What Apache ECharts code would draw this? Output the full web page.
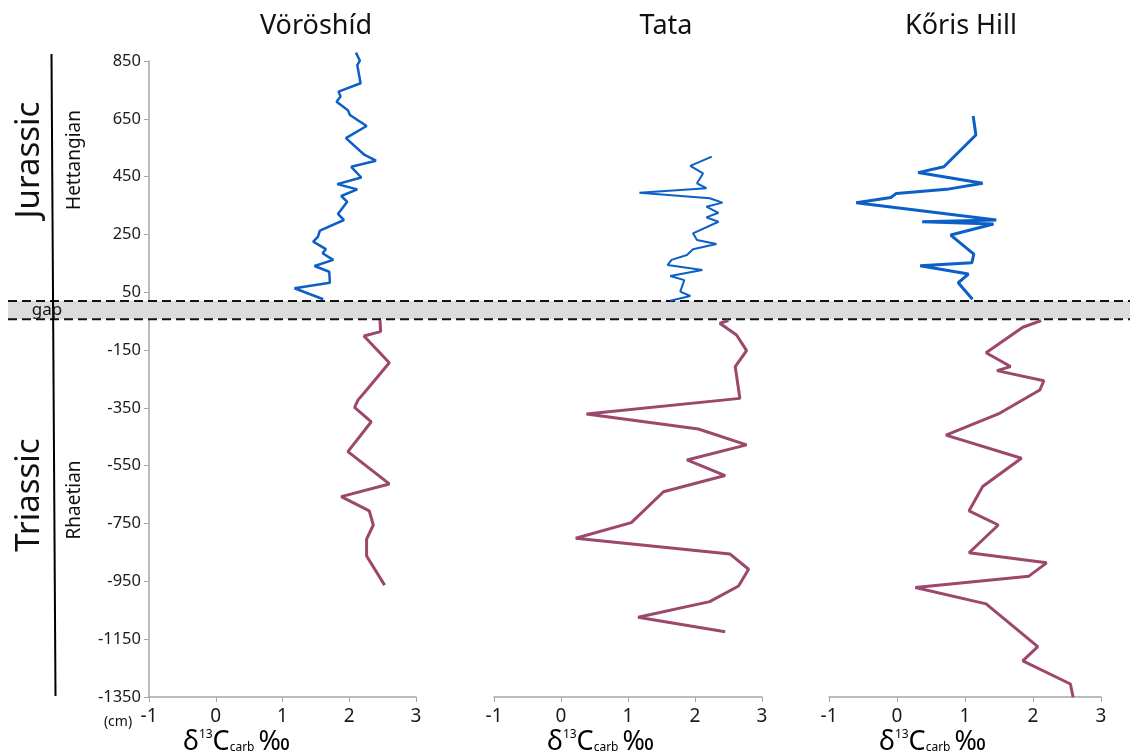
<!DOCTYPE html>
<html><head><meta charset="utf-8">
<script src="https://cdn.jsdelivr.net/npm/echarts@6/dist/echarts.min.js"></script>
<style>html,body{margin:0;padding:0;background:#fff}#c{width:1135px;height:756px}</style>
</head><body><div id="c"></div>
<script>
// ---------- data ----------
const sections = ['Vöröshíd', 'Tata', 'Kőris Hill'];
const xTicks = [-1, 0, 1, 2, 3];
const depthTicks = [-1350, -1150, -950, -750, -550, -350, -150, 50, 250, 450, 650, 850];
const gapRange = [20, -43]; // cm, stratigraphic gap between Triassic and Jurassic

// Vöröshíd
const vorJurDepth = [879, 851, 836, 773, 744, 727, 709, 680, 663, 625, 583, 525, 505, 484, 447, 424, 406, 383, 363, 321, 300, 263, 242, 225, 199, 185, 162, 141, 121, 83, 64, 26];
const vorJurD13C  = [2.10, 2.16, 2.12, 2.17, 1.84, 1.87, 1.81, 1.98, 2.01, 2.26, 1.95, 2.23, 2.40, 2.03, 2.18, 1.82, 2.12, 1.88, 1.97, 1.83, 1.92, 1.56, 1.53, 1.46, 1.65, 1.60, 1.76, 1.48, 1.70, 1.71, 1.18, 1.61];
const vorTriDepth = [-46, -86, -101, -194, -288, -323, -348, -398, -501, -613, -657, -706, -755, -804, -862, -963];
const vorTriD13C  = [2.46, 2.47, 2.22, 2.60, 2.26, 2.13, 2.08, 2.33, 1.98, 2.60, 1.88, 2.30, 2.36, 2.26, 2.26, 2.53];

// Tata
const tataJurDepth = [519, 487, 461, 427, 410, 394, 375, 360, 346, 325, 309, 294, 254, 231, 217, 199, 179, 162, 144, 127, 106, 92, 52, 37, 21];
const tataJurD13C  = [2.25, 1.93, 2.12, 2.03, 2.17, 1.17, 2.22, 2.41, 2.17, 2.35, 2.17, 2.35, 1.97, 2.03, 2.32, 1.97, 1.88, 1.65, 1.59, 2.11, 1.63, 1.84, 1.78, 1.93, 1.63];
const tataTriDepth = [-48, -57, -98, -152, -207, -317, -371, -423, -478, -530, -584, -640, -747, -801, -855, -908, -966, -1020, -1074, -1124];
const tataTriD13C  = [2.50, 2.37, 2.62, 2.77, 2.60, 2.67, 0.38, 2.05, 2.77, 1.88, 2.45, 1.53, 1.05, 0.22, 2.52, 2.80, 2.65, 2.22, 1.15, 2.45];

// Kőris Hill
const korJurDepth = [660, 594, 484, 464, 427, 406, 392, 378, 360, 300, 294, 286, 248, 182, 152, 142, 113, 83, 26];
const korJurD13C  = [1.12, 1.16, 0.69, 0.31, 1.26, 0.73, -0.01, -0.09, -0.60, 1.46, 0.37, 1.42, 0.79, 1.13, 1.10, 0.34, 1.05, 0.90, 1.11];
const korTriDepth = [-48, -71, -159, -207, -221, -256, -288, -371, -444, -524, -622, -706, -755, -851, -886, -932, -971, -1028, -1176, -1225, -1305, -1351];
const korTriD13C  = [2.12, 1.85, 1.31, 1.67, 1.47, 2.16, 2.10, 1.49, 0.72, 1.83, 1.26, 1.06, 1.49, 1.06, 2.20, 1.94, 0.27, 1.31, 2.07, 1.85, 2.55, 2.59];

// ---------- chart ----------
const zip = (xs, ys) => xs.map((x, i) => [x, ys[i]]);
const BLUE = '#0b5fc6', MAROON = '#9c476c';
const FONT = 'Noto Sans';
const NARROW = '"Liberation Sans Narrow", "Noto Sans"';

const grids = [
  {left: 149, top: 61, width: 267, height: 636},
  {left: 494, top: 61, width: 268, height: 636},
  {left: 829, top: 61, width: 272, height: 636}
];

const xAxes = grids.map((g, i) => ({
  type: 'value', gridIndex: i, min: xTicks[0], max: xTicks[xTicks.length - 1], interval: 1,
  axisLine: {show: true, onZero: false, lineStyle: {color: '#a6a6a6', width: 1.5}},
  axisTick: {show: true, length: 5, lineStyle: {color: '#a6a6a6'}},
  axisLabel: {fontSize: 19, color: '#1a1a1a', fontFamily: NARROW, margin: 10, formatter: v => String(v)},
  splitLine: {show: false}
}));

const yAxes = grids.map((g, i) => ({
  type: 'value', gridIndex: i, min: depthTicks[0], max: depthTicks[depthTicks.length - 1], interval: 200,
  show: i === 0,
  axisLine: {show: true, onZero: false, lineStyle: {color: '#a6a6a6', width: 1.5}},
  axisTick: {show: true, length: 5, lineStyle: {color: '#a6a6a6'}},
  axisLabel: {fontSize: 16.5, color: '#1a1a1a', fontFamily: FONT, margin: 8, formatter: v => String(v)},
  splitLine: {show: false}
}));

function ser(i, depth, vals, color, width) {
  return {type: 'line', xAxisIndex: i, yAxisIndex: i, data: zip(vals, depth),
    symbol: 'none', clip: false, lineStyle: {color: color, width: width}, z: 5};
}

const series = [
  ser(0, vorJurDepth, vorJurD13C, BLUE, 2.5),
  ser(0, vorTriDepth, vorTriD13C, MAROON, 3),
  ser(1, tataJurDepth, tataJurD13C, BLUE, 2),
  ser(1, tataTriDepth, tataTriD13C, MAROON, 3),
  ser(2, korJurDepth, korJurD13C, BLUE, 3),
  ser(2, korTriDepth, korTriD13C, MAROON, 3)
];

const chart = echarts.init(document.getElementById('c'), null, {renderer: 'canvas'});
chart.setOption({
  animation: false,
  backgroundColor: '#fff',
  grid: grids,
  xAxis: xAxes,
  yAxis: yAxes,
  series: series
});

const yTop = chart.convertToPixel({gridIndex: 0}, [0, gapRange[0]])[1];
const yBot = chart.convertToPixel({gridIndex: 0}, [0, gapRange[1]])[1];

const titleX = [316, 666, 961];
const labelX = [183, 547, 879];

const rich = {
  d: {fontSize: 27, fontFamily: NARROW, color: '#111'},
  sup: {fontSize: 12, fontFamily: NARROW, color: '#111', verticalAlign: 'top', padding: [0, 0, 14, 0]},
  sub: {fontSize: 12, fontFamily: NARROW, color: '#111', padding: [12, 4, 0, 0]}
};

const graphics = [
  {type: 'rect', shape: {x: 8, y: yTop, width: 1122, height: yBot - yTop}, style: {fill: '#dcdcdc'}, z: 1},
  {type: 'line', shape: {x1: 8, y1: yTop, x2: 1130, y2: yTop}, style: {stroke: '#111', lineWidth: 2, lineDash: [9, 5]}, z: 3},
  {type: 'line', shape: {x1: 8, y1: yBot, x2: 1130, y2: yBot}, style: {stroke: '#111', lineWidth: 2, lineDash: [9, 5]}, z: 3},
  {type: 'line', shape: {x1: 51.5, y1: 54, x2: 55.5, y2: 696}, style: {stroke: '#000', lineWidth: 2}, z: 4},
  {type: 'text', x: 47, y: (yTop + yBot) / 2, style: {text: 'gap', fontSize: 17, fontFamily: FONT, fill: '#111', align: 'center', verticalAlign: 'middle'}, z: 5},
  {type: 'text', x: 30, y: 160, rotation: Math.PI / 2, style: {text: 'Jurassic', fontSize: 33, fontFamily: FONT, fill: '#111', align: 'center', verticalAlign: 'middle'}, z: 5},
  {type: 'text', x: 75, y: 160, rotation: Math.PI / 2, style: {text: 'Hettangian', fontSize: 19, fontFamily: FONT, fill: '#111', align: 'center', verticalAlign: 'middle'}, z: 5},
  {type: 'text', x: 30, y: 495, rotation: Math.PI / 2, style: {text: 'Triassic', fontSize: 33, fontFamily: FONT, fill: '#111', align: 'center', verticalAlign: 'middle'}, z: 5},
  {type: 'text', x: 75, y: 500, rotation: Math.PI / 2, style: {text: 'Rhaetian', fontSize: 19, fontFamily: FONT, fill: '#111', align: 'center', verticalAlign: 'middle'}, z: 5},
  {type: 'text', x: 118, y: 722, style: {text: '(cm)', fontSize: 14, fontFamily: NARROW, fill: '#111', align: 'center', verticalAlign: 'middle'}, z: 5}
];
sections.forEach((s, i) => {
  graphics.push({type: 'text', x: titleX[i], y: 26, style: {text: s, fontSize: 27, fontFamily: FONT, fill: '#111', align: 'center', verticalAlign: 'middle'}, z: 5});
  graphics.push({type: 'text', x: labelX[i], y: 742, style: {text: '{d|δ}{sup|13}{d|C}{sub|carb}{d|‰}', rich: rich, align: 'left', verticalAlign: 'middle'}, z: 5});
});

chart.setOption({graphic: graphics});
</script>
</body></html>
